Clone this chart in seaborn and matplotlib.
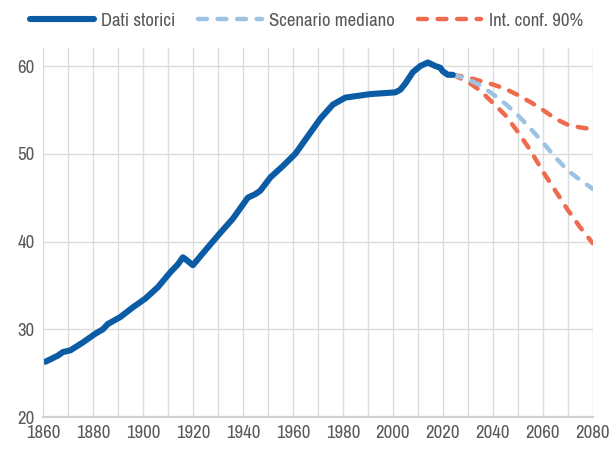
import pandas as pd
import matplotlib.pyplot as plt
import seaborn as sns
from matplotlib import font_manager

# Historical population (millions)
hist_years = [1861, 1866, 1868, 1871, 1876, 1881, 1884, 1886, 1891, 1896, 1901, 1906,
              1911, 1914, 1916, 1917, 1920, 1925, 1931, 1936, 1940, 1942, 1945, 1947,
              1951, 1956, 1961, 1966, 1971, 1976, 1981, 1986, 1991, 1996, 2001, 2003,
              2005, 2008, 2011, 2014, 2017, 2019, 2020, 2022, 2024]
hist_values = [26.3, 27.0, 27.4, 27.6, 28.5, 29.5, 30.0, 30.6, 31.4, 32.5, 33.5, 34.8,
               36.5, 37.4, 38.2, 38.0, 37.3, 39.0, 41.0, 42.6, 44.2, 45.0, 45.4, 45.8,
               47.3, 48.6, 50.0, 52.0, 54.0, 55.6, 56.4, 56.6, 56.8, 56.9, 57.0, 57.3,
               58.0, 59.3, 60.0, 60.4, 60.0, 59.8, 59.4, 59.0, 59.0]

# Projections
proj_years = [2024, 2030, 2035, 2040, 2045, 2050, 2055, 2060, 2065, 2070, 2075, 2080]
median = [59.0, 58.5, 57.8, 56.8, 55.7, 54.4, 52.9, 51.3, 49.6, 48.1, 47.0, 46.0]
upper = [59.0, 58.7, 58.3, 57.9, 57.4, 56.7, 55.9, 55.0, 54.0, 53.3, 53.0, 52.8]
lower = [59.0, 58.2, 57.2, 55.8, 54.4, 52.5, 50.4, 48.0, 45.8, 43.6, 41.6, 39.8]

hist = pd.DataFrame({"anno": hist_years, "pop": hist_values})
proj = pd.DataFrame({"anno": proj_years, "mediano": median, "sup": upper, "inf": lower})

sns.set_style("white")
# pick a narrow font if one is installed
names = {f.name for f in font_manager.fontManager.ttflist}
narrow = [n for n in names if "Narrow" in n or "Condensed" in n]
plt.rcParams["font.family"] = sorted(narrow)[:1] + ["Liberation Sans", "DejaVu Sans"]
fs = 13.5 if narrow else 11

fig = plt.figure(figsize=(6.13, 4.5), dpi=100)
ax = fig.add_axes([0.070, 0.0733, 0.897, 0.819])

blue = "#0B5CA5"
light = "#9DC3E4"
orange = "#EE6B4D"
dash = (0, (2.0, 2.4))

sns.lineplot(data=proj, x="anno", y="inf", ax=ax, color=orange, lw=3.2,
             linestyle=dash, dash_capstyle="round", label="Int. conf. 90%")
sns.lineplot(data=proj, x="anno", y="sup", ax=ax, color=orange, lw=3.2,
             linestyle=dash, dash_capstyle="round")
sns.lineplot(data=proj, x="anno", y="mediano", ax=ax, color=light, lw=3.2,
             linestyle=dash, dash_capstyle="round", label="Scenario mediano")
sns.lineplot(data=hist, x="anno", y="pop", ax=ax, color=blue, lw=4.4,
             solid_capstyle="round", solid_joinstyle="round", label="Dati storici")

ax.set_xlim(1860, 2080)
ax.set_ylim(20, 62)
ax.set_xticks(range(1860, 2081, 20))
ax.set_xticks(range(1870, 2081, 20), minor=True)
ax.set_yticks([20, 30, 40, 50, 60])
ax.grid(True, which="both", axis="x", color="#DCDCDC", lw=1)
ax.grid(True, which="major", axis="y", color="#DCDCDC", lw=1)
ax.set_axisbelow(True)
ax.set_xlabel("")
ax.set_ylabel("")
for s in ["top", "right"]:
    ax.spines[s].set_visible(False)
ax.spines["left"].set_color("#DCDCDC")
ax.spines["bottom"].set_color("#D0D0D0")
ax.spines["bottom"].set_linewidth(1.6)
ax.tick_params(axis="both", which="both", length=0, labelsize=fs,
               labelcolor="#595959", pad=6)

handles, labels = ax.get_legend_handles_labels()
order = [labels.index(l) for l in ["Dati storici", "Scenario mediano", "Int. conf. 90%"]]
ax.get_legend().remove()
fig.legend([handles[i] for i in order], [labels[i] for i in order], loc="upper center",
           bbox_to_anchor=(0.5, 1.01), ncol=3, frameon=False, fontsize=fs,
           handlelength=3.4, handletextpad=0.4, columnspacing=1.2, labelcolor="#595959")

fig.savefig("out.png", dpi=100)
